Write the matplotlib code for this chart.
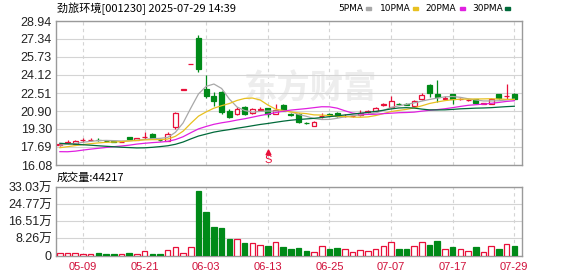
import matplotlib
matplotlib.use("Agg")
import matplotlib.pyplot as plt
from matplotlib.patches import Rectangle
import numpy as np
import pandas as pd

plt.rcParams['font.family'] = ['Liberation Sans', 'Noto Sans CJK SC']

title = "劲旅环境[001230] 2025-07-29 14:39"

dates = ["05-06", "05-07", "05-08", "05-09", "05-12", "05-13", "05-14", "05-15", "05-16",
         "05-19", "05-20", "05-21", "05-22", "05-23", "05-26", "05-27", "05-28", "05-29", "05-30",
         "06-03", "06-04", "06-05", "06-06", "06-09", "06-10", "06-11", "06-12", "06-13",
         "06-16", "06-17", "06-18", "06-19", "06-20", "06-23", "06-24", "06-25", "06-26", "06-27",
         "06-30", "07-01", "07-02", "07-03", "07-04", "07-07", "07-08", "07-09", "07-10", "07-11",
         "07-14", "07-15", "07-16", "07-17", "07-18", "07-21", "07-22", "07-23", "07-24", "07-25",
         "07-28", "07-29"]

# 日K数据 (开, 高, 低, 收)
opens = [17.88, 18.08, 18.00, 18.28, 18.28, 18.33, 18.24, 18.20, 18.15, 18.55,
         18.34, 18.55, 18.85, 18.32, 18.23, 19.45, 22.82, 25.10, 27.39, 22.84,
         22.24, 22.57, 20.93, 20.64, 21.23, 20.70, 21.02, 21.14, 20.65, 21.41,
         20.60, 20.61, 19.86, 19.59, 20.42, 20.62, 20.75, 20.43, 20.44, 20.52,
         20.82, 20.93, 21.48, 21.29, 21.56, 21.50, 21.38, 21.95, 23.23, 22.42,
         22.00, 22.40, 21.93, 21.88, 21.95, 21.57, 21.53, 22.40, 22.20, 22.42]
highs = [18.05, 18.30, 18.30, 18.45, 18.45, 18.50, 18.30, 18.25, 18.20, 18.60,
         18.48, 19.06, 18.90, 18.40, 19.06, 20.79, 22.82, 25.10, 27.70, 24.12,
         22.63, 22.72, 21.11, 21.23, 21.38, 21.20, 21.29, 21.20, 21.55, 21.53,
         20.70, 20.70, 19.95, 19.98, 20.70, 20.70, 20.80, 20.60, 20.55, 21.00,
         21.00, 21.30, 21.65, 22.24, 21.65, 21.60, 21.90, 22.50, 23.29, 23.67,
         22.20, 22.45, 22.05, 21.95, 22.00, 21.65, 22.10, 22.45, 23.32, 22.55]
lows = [17.75, 18.00, 17.95, 18.15, 18.20, 18.20, 18.15, 18.10, 18.10, 18.40,
        18.30, 18.40, 18.40, 18.20, 18.20, 19.30, 22.82, 25.10, 24.41, 22.10,
        21.35, 20.61, 20.25, 20.55, 20.55, 20.60, 20.95, 20.40, 20.60, 20.90,
        20.45, 19.86, 19.70, 19.55, 20.30, 20.45, 20.40, 20.40, 20.35, 20.45,
        20.70, 20.90, 21.35, 21.20, 21.45, 21.42, 21.30, 21.90, 22.18, 21.75,
        21.85, 21.50, 21.85, 21.80, 21.55, 21.50, 21.50, 22.00, 22.00, 21.90]
closes = [17.93, 18.14, 18.25, 18.32, 18.31, 18.28, 18.22, 18.15, 18.17, 18.43,
          18.47, 18.62, 18.47, 18.30, 18.85, 20.74, 22.82, 25.10, 24.63, 22.24,
          21.77, 20.84, 20.40, 21.06, 20.64, 21.10, 21.12, 20.61, 20.95, 20.93,
          20.52, 19.95, 19.80, 19.95, 20.48, 20.58, 20.46, 20.47, 20.47, 20.75,
          20.86, 21.14, 21.52, 21.80, 21.52, 21.48, 21.80, 22.33, 22.54, 22.13,
          22.04, 21.95, 21.96, 21.90, 21.59, 21.60, 21.95, 22.04, 22.28, 21.95]

# 成交量 (万)
volumes = [1.3, 1.3, 1.3, 0.9, 0.9, 1.4, 0.9, 0.9, 0.9, 1.3,
           0.9, 2.0, 0.9, 0.9, 2.8, 4.2, 1.3, 4.2, 31.1, 21.0,
           13.7, 13.3, 7.8, 7.8, 5.8, 5.8, 5.3, 4.5, 6.6, 4.0,
           2.9, 3.6, 2.4, 1.9, 4.4, 2.9, 3.4, 2.9, 1.9, 2.7,
           2.3, 3.2, 4.4, 6.6, 3.2, 2.9, 4.4, 6.6, 5.3, 6.8,
           3.2, 3.9, 3.2, 2.3, 3.9, 1.9, 4.7, 3.2, 5.7, 4.42]
last_volume = "44217"

# 图外的前30日收盘价(估计), 只用于均线
prior_close = [19.4, 19.6, 19.7, 19.5, 19.8, 19.6, 19.4, 19.5, 19.3, 19.4,
               18.3, 17.2, 16.4, 16.6, 16.8, 16.7, 16.8, 16.9, 17.0, 16.5,
               17.2, 17.3, 17.4, 17.5, 17.6, 17.7, 17.9, 17.8, 17.9]

price_ticks = [16.08, 17.69, 19.30, 20.90, 22.51, 24.12, 25.73, 27.34, 28.94]
price_labels = ["16.08", "17.69", "19.30", "20.90", "22.51", "24.12", "25.73", "27.34", "28.94"]
vol_ticks = [0, 8.26, 16.51, 24.77, 33.03]
vol_labels = ["0", "8.26万", "16.51万", "24.77万", "33.03万"]
date_ticks = ["05-09", "05-21", "06-03", "06-13", "06-25", "07-07", "07-17", "07-29"]

ma_periods = [5, 10, 20, 30]
ma_names = ["5PMA", "10PMA", "20PMA", "30PMA"]
ma_colors = ["#a8a8a8", "#e8c020", "#e020e0", "#006a3a"]

RED = "#e8103a"
GREEN = "#008a18"
GRID = "#d4d4d4"
FRAME = "#9a9a9a"

W, H = 578, 276
fig = plt.figure(figsize=(W / 100, H / 100), dpi=100)
ax = fig.add_axes([56 / W, 1 - 165 / H, (522 - 56) / W, (165 - 21) / H])
axv = fig.add_axes([56 / W, 1 - 255.5 / H, (522 - 56) / W, (255.5 - 187) / H])

x = np.arange(len(dates))
tick_pos = [dates.index(d) for d in date_ticks]

for a in (ax, axv):
    a.set_xlim(-0.5, len(dates))
    for s in a.spines.values():
        s.set_color(FRAME)
        s.set_linewidth(1)
    for p in tick_pos:
        a.axvline(p, color=GRID, lw=0.8, ls=(0, (3, 3)), zorder=0)
    a.tick_params(length=0)

# 水印
ax.text(32.5, 22.9, "东方财富", fontsize=24, color="#ededed", fontweight="bold",
        ha="center", va="center", family=["Noto Sans CJK SC"], zorder=0)

# K线
body_w = 0.64
for i in x:
    o, h, l, c = opens[i], highs[i], lows[i], closes[i]
    up = c >= o
    col = RED if up else GREEN
    ax.vlines(i, l, h, color=col, lw=0.9, zorder=2)
    bottom = min(o, c)
    height = max(abs(c - o), 0.015)
    ax.add_patch(Rectangle((i - body_w / 2, bottom), body_w, height,
                           facecolor="white" if up else GREEN, edgecolor=col,
                           lw=0.9, zorder=3))

# 均线
all_close = pd.Series(prior_close + closes)
for n, col in zip(ma_periods, ma_colors):
    ma = all_close.rolling(n).mean().values[len(prior_close):]
    ax.plot(x, ma, color=col, lw=0.9, zorder=4)

# S标记
ax.plot(27, 17.25, marker="^", color=RED, ms=3.5, zorder=5)
ax.text(27, 16.55, "S", color=RED, fontsize=8, ha="center", va="center", zorder=5)

ax.set_ylim(price_ticks[0], price_ticks[-1])
ax.set_yticks(price_ticks)
ax.set_yticklabels(price_labels, fontsize=9, color="#222222")
ax.set_xticks([])
ax.grid(axis="y", color=GRID, lw=0.8, zorder=0)
ax.set_axisbelow(True)
ax.tick_params(axis="y", pad=3)

# 成交量
for i in x:
    up = closes[i] >= opens[i]
    col = RED if up else GREEN
    axv.add_patch(Rectangle((i - 0.36, 0), 0.72, volumes[i],
                            facecolor="white" if up else GREEN, edgecolor=col,
                            lw=0.9, zorder=3))
axv.set_ylim(0, vol_ticks[-1])
axv.set_yticks(vol_ticks)
axv.set_yticklabels(vol_labels, fontsize=9, color="#222222")
axv.set_xticks(tick_pos)
axv.set_xticklabels(date_ticks, fontsize=8, color="#d0103a")
axv.grid(axis="y", color=GRID, lw=0.8, zorder=0)
axv.set_axisbelow(True)
axv.tick_params(axis="y", pad=3)
axv.tick_params(axis="x", pad=5)

fig.text(57 / W, 1 - 9 / H, title, fontsize=8, ha="left", va="center",
         family=["Noto Sans CJK SC", "DejaVu Sans"])
fig.text(57 / W, 1 - 178 / H, "成交量:" + last_volume, fontsize=8, ha="left", va="center",
         family=["Noto Sans CJK SC", "DejaVu Sans"])

# 图例
leg_x = [338, 380, 425, 472]
sq_x = [366, 413, 460, 505]
for name, col, tx, sx in zip(ma_names, ma_colors, leg_x, sq_x):
    fig.text(tx / W, 1 - 8.5 / H, name, fontsize=6.5, ha="left", va="center",
             family=["DejaVu Sans"])
    fig.patches.append(Rectangle((sx / W, 1 - 10 / H), 5 / W, 3 / H, color=col,
                                 transform=fig.transFigure, figure=fig))

fig.savefig("out.png", dpi=100)
